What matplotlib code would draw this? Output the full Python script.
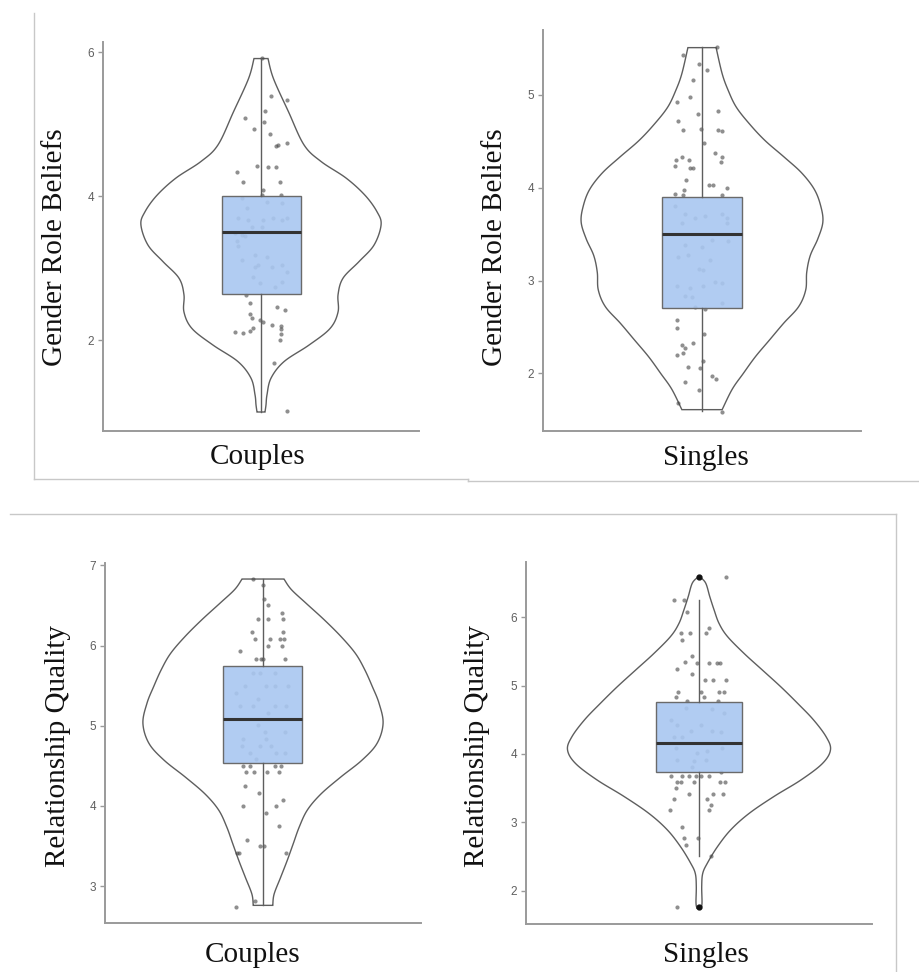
import numpy as np
import matplotlib
matplotlib.use("Agg")
import matplotlib.pyplot as plt
from matplotlib.lines import Line2D

# ---------------- data ----------------
# Panel A: Gender Role Beliefs - Couples
grb_c_prof_y = [1.00, 1.10, 1.24, 1.47, 1.70, 1.93, 2.16, 2.39, 2.63, 2.86, 3.09, 3.32,
                3.60, 3.78, 4.01, 4.25, 4.48, 4.71, 5.17, 5.63, 5.91]
grb_c_prof_d = [4, 5, 6, 10, 23, 48, 69, 77, 77, 82, 98, 113,
                120, 116, 104, 85, 60, 43, 27.5, 12.5, 7]
grb_c_box = dict(whislo=1.0, q1=2.64, med=3.5, q3=4.0, whishi=5.92, fliers=[])
grb_c_jit = [1, 10, 26, 4, -16, 3, -7, 9, 15, 17, 26, -4, 7, 15, -24, -18, 19, 2, 1, 20,
             -19, 6, 21, -14, -23, -13, 2, 12, 21, 26, -9, 1, -26, -19, -16, -24, -23, -6, 6, -19,
             -3, 11, -6, 21, 26, -8, -1, 14, 21, -15, -11, 16, 24, -11, -9, -1, 2, 11, 20, 20,
             20, 19, -8, -11, -18, -26, 13, 26]
grb_c_val = [5.92, 5.39, 5.33, 5.18, 5.09, 5.03, 4.93, 4.86, 4.69, 4.71, 4.73, 4.42, 4.41, 4.41,
             4.34, 4.19, 4.19, 4.08, 4.01, 4.01, 3.97, 3.92, 3.90, 3.83, 3.69, 3.67, 3.67, 3.69,
             3.67, 3.69, 3.57, 3.57, 3.48, 3.46, 3.45, 3.37, 3.30, 3.18, 3.16, 3.11, 3.04, 3.02,
             3.01, 3.04, 2.94, 2.88, 2.79, 2.73, 2.80, 2.63, 2.52, 2.46, 2.41, 2.36, 2.30, 2.28,
             2.25, 2.21, 2.20, 2.15, 2.08, 2.00, 2.16, 2.12, 2.10, 2.11, 1.68, 1.02]

# Panel B: Gender Role Beliefs - Singles
grb_s_prof_y = [1.61, 1.83, 2.00, 2.18, 2.36, 2.54, 2.72, 2.90, 3.09, 3.27, 3.45, 3.63,
                3.80, 3.98, 4.16, 4.33, 4.51, 4.69, 4.87, 5.05, 5.23, 5.51]
grb_s_prof_d = [20, 30, 41, 53, 67, 81, 96, 103, 104, 107.5, 115, 120,
                118, 111.7, 99, 81.7, 62.5, 47, 34, 26, 20, 14]
grb_s_box = dict(whislo=1.6, q1=2.7, med=3.5, q3=3.9, whishi=5.52, fliers=[])
grb_s_jit = [15, -19, -3, 5, -9, -12, -25, 16, -4, -24, -19, -1, 16, 20, 2, 13, 20, 19, -26, -20,
             -13, -27, -12, -9, -16, 7, 11, 25, -18, -27, -19, 20, -27, -17, -7, 3, 20, 25, -20, 25,
             10, 26, -17, 0, -14, -24, 8, -3, 1, -25, -12, 1, 13, 20, -17, -10, 20, -7, 3, -25,
             -25, 2, -9, -20, -17, -25, -19, 1, -2, -14, 10, 14, -17, -3, -24, 20]
grb_s_val = [5.52, 5.43, 5.33, 5.27, 5.16, 4.98, 4.92, 4.83, 4.80, 4.72, 4.62, 4.63, 4.62, 4.61,
             4.48, 4.37, 4.33, 4.28, 4.30, 4.33, 4.30, 4.23, 4.21, 4.21, 4.08, 4.03, 4.03, 4.00,
             3.98, 3.93, 3.92, 3.92, 3.80, 3.72, 3.67, 3.70, 3.72, 3.68, 3.62, 3.62, 3.44, 3.43,
             3.38, 3.36, 3.28, 3.25, 3.22, 3.13, 3.11, 2.94, 2.92, 2.94, 2.99, 2.97, 2.83, 2.82,
             2.76, 2.72, 2.69, 2.58, 2.49, 2.43, 2.33, 2.31, 2.27, 2.20, 2.22, 2.13, 2.06, 2.07,
             1.97, 1.94, 1.91, 1.82, 1.68, 1.59]

# Panel C: Relationship Quality - Couples
rq_c_prof_y = [2.76, 2.90, 3.11, 3.32, 3.53, 3.74, 3.95, 4.15, 4.36, 4.57, 4.78, 5.03,
               5.28, 5.49, 5.70, 5.90, 6.11, 6.32, 6.53, 6.70, 6.83]
rq_c_prof_d = [9.7, 11, 17.5, 24, 30, 36, 44, 57.5, 77, 98, 113, 119,
               115, 108.3, 100.8, 91.7, 77.5, 60.8, 42.5, 28, 20.8]
rq_c_box = dict(whislo=2.76, q1=4.54, med=5.09, q3=5.75, whishi=6.83, fliers=[])
rq_c_jit = [-10, 0, 1, 5, 19, -5, 5, 20, -11, 20, -8, 7, 17, 21, 5, 19, -23, -7, 0, 22,
            -2, -10, -3, 12, -18, 3, 12, 25, -27, -5, -23, -10, 12, 23, 5, -5, 2, 22, -20, 3,
            -21, -3, 8, -13, 13, 22, -7, -20, -13, 12, 18, -17, -9, 4, 16, -18, -4, 20, -20, 13,
            3, 16, -16, -3, 1, -26, -24, 23, -8, -27]
rq_c_val = [6.83, 6.75, 6.58, 6.51, 6.41, 6.33, 6.33, 6.33, 6.17, 6.17, 6.08, 6.08, 6.08, 6.08,
            6.00, 6.00, 5.93, 5.83, 5.83, 5.83, 5.83, 5.66, 5.66, 5.66, 5.50, 5.50, 5.50, 5.50,
            5.41, 5.34, 5.25, 5.25, 5.25, 5.25, 5.16, 5.01, 4.92, 4.92, 4.83, 4.83, 4.75, 4.75,
            4.75, 4.66, 4.66, 4.66, 4.59, 4.50, 4.50, 4.50, 4.50, 4.42, 4.42, 4.42, 4.42, 4.25,
            4.16, 4.08, 4.00, 4.00, 3.91, 3.75, 3.58, 3.50, 3.50, 3.41, 3.41, 3.41, 2.82, 2.74]

# Panel D: Relationship Quality - Singles
rq_s_prof_y = [1.74, 1.82, 2.06, 2.25, 2.40, 2.64, 2.89, 3.13, 3.38, 3.62, 3.86, 4.06,
               4.25, 4.50, 4.74, 4.98, 5.23, 5.47, 5.72, 5.91, 6.11, 6.30, 6.50, 6.59]
rq_s_prof_d = [2, 3, 2.7, 3.7, 8.3, 18.3, 31.7, 50, 75, 101.7, 123, 131,
               126.7, 114, 98.3, 81.7, 63, 45, 28.3, 20, 15, 10.8, 6.7, 1]
rq_s_box = dict(whislo=2.5, q1=3.74, med=4.165, q3=4.76, whishi=6.25, fliers=[6.59, 1.76])
rq_s_jit = [27, -25, -15, -12, 10, 7, -18, -9, -17, -7, -14, -22, -2, 10, 18, 21, -7, 6, 14, 27,
            -21, 2, 20, 25, -23, 5, -12, 19, -13, 13, 25, -28, 2, -22, -8, 13, 22, -25, -17, -23,
            -2, 8, 23, -22, -5, 7, -7, -28, -17, -10, -3, 2, 10, 22, -22, -18, -5, 21, 26, -23,
            -10, 14, 24, -25, 8, 12, -29, 10, -17, -15, -13, -1, 12, -22]
rq_s_val = [6.59, 6.25, 6.25, 6.08, 5.84, 5.77, 5.77, 5.77, 5.67, 5.43, 5.34, 5.25, 5.33, 5.33,
            5.33, 5.33, 5.17, 5.08, 5.08, 5.08, 4.91, 4.91, 4.91, 4.91, 4.84, 4.84, 4.77, 4.77,
            4.67, 4.66, 4.60, 4.50, 4.42, 4.42, 4.33, 4.33, 4.32, 4.25, 4.25, 4.08, 4.02, 4.05,
            4.08, 3.91, 3.90, 3.91, 3.81, 3.68, 3.68, 3.68, 3.68, 3.68, 3.68, 3.74, 3.59, 3.59,
            3.59, 3.59, 3.59, 3.50, 3.41, 3.41, 3.41, 3.34, 3.34, 3.25, 3.18, 3.18, 2.93, 2.77,
            2.67, 2.77, 2.51, 1.76]

panels = [
    dict(prof_y=grb_c_prof_y, prof_d=grb_c_prof_d, box=grb_c_box, jit=grb_c_jit, val=grb_c_val,
         ylabel="Gender Role Beliefs", xlabel="Couples", yticks=[2, 4, 6], ylim=(0.736, 6.14),
         rect_px=(103, 42, 419, 431), ylab=(-0.152, 0.472), xlab=(0.489, -0.067)),
    dict(prof_y=grb_s_prof_y, prof_d=grb_s_prof_d, box=grb_s_box, jit=grb_s_jit, val=grb_s_val,
         ylabel="Gender Role Beliefs", xlabel="Singles", yticks=[2, 3, 4, 5], ylim=(1.38, 5.70),
         rect_px=(543, 30, 861, 431), ylab=(-0.151, 0.458), xlab=(0.512, -0.067)),
    dict(prof_y=rq_c_prof_y, prof_d=rq_c_prof_d, box=rq_c_box, jit=rq_c_jit, val=rq_c_val,
         ylabel="Relationship Quality", xlabel="Couples", yticks=[3, 4, 5, 6, 7], ylim=(2.54, 7.03),
         rect_px=(105, 563, 421, 923), ylab=(-0.149, 0.493), xlab=(0.466, -0.088)),
    dict(prof_y=rq_s_prof_y, prof_d=rq_s_prof_d, box=rq_s_box, jit=rq_s_jit, val=rq_s_val,
         ylabel="Relationship Quality", xlabel="Singles", yticks=[2, 3, 4, 5, 6], ylim=(1.51, 6.81),
         rect_px=(526, 562, 872, 924), ylab=(-0.141, 0.493), xlab=(0.52, -0.085)),
]

# ---------------- style ----------------
W, H = 920, 972
VIOLIN_HALF = 0.76
BOX_WIDTH = 0.5
BOX_COLOR = "#a9c7f1"
LINE_GREY = "#5e5e5e"
SPINE_GREY = "#9a9a9a"
LABEL_FONT = dict(family=["Liberation Serif", "DejaVu Serif"], size=21, color="#111111")


def smooth_outline(y, d, n=12):
    """Catmull-Rom rendering of the read outline, for a smooth drawn edge."""
    y = np.asarray(y, float)
    d = np.asarray(d, float)
    P = np.column_stack([y, d])
    P = np.vstack([P[0], P, P[-1]])
    out = []
    t = np.linspace(0, 1, n, endpoint=False)
    for i in range(1, len(P) - 2):
        p0, p1, p2, p3 = P[i - 1], P[i], P[i + 1], P[i + 2]
        tt = t[:, None]
        seg = 0.5 * ((2 * p1) + (-p0 + p2) * tt + (2 * p0 - 5 * p1 + 4 * p2 - p3) * tt ** 2
                     + (-p0 + 3 * p1 - 3 * p2 + p3) * tt ** 3)
        out.append(seg)
    out.append(P[-2][None, :])
    out = np.vstack(out)
    return out[:, 0], np.clip(out[:, 1], 0, None)


fig = plt.figure(figsize=(W / 100, H / 100), dpi=100)
fig.patch.set_facecolor("white")

for p in panels:
    l, t, r, b = p["rect_px"]
    ax = fig.add_axes([l / W, 1 - b / H, (r - l) / W, (b - t) / H])
    half_px = (r - l) / 2.0

    # violin
    dmax = max(p["prof_d"])
    sy, sd = smooth_outline(p["prof_y"], p["prof_d"])
    sd = sd / dmax * VIOLIN_HALF
    xs = np.concatenate([-sd, sd[::-1]])
    ys = np.concatenate([sy, sy[::-1]])
    ax.fill(xs, ys, facecolor="white", edgecolor=LINE_GREY, linewidth=1.0, zorder=1)

    # jittered points
    jx = np.array(p["jit"], dtype=float) / half_px
    ax.scatter(jx, p["val"], s=9, color="#444444", alpha=0.6, linewidths=0, zorder=2)

    # boxplot
    st = dict(p["box"])
    bp = ax.bxp([st], positions=[0], widths=BOX_WIDTH, showcaps=False, patch_artist=True,
                boxprops=dict(facecolor=BOX_COLOR, edgecolor="#6a6a6a", linewidth=1.0),
                whiskerprops=dict(color=LINE_GREY, linewidth=1.0),
                medianprops=dict(color="#333333", linewidth=2.2),
                flierprops=dict(marker="o", markerfacecolor="#111111", markeredgecolor="#111111",
                                markersize=3.5),
                manage_ticks=False, zorder=3)
    for box in bp["boxes"]:
        box.set_edgecolor("#6a6a6a")
        box.set_facecolor(matplotlib.colors.to_rgba(BOX_COLOR, 0.9))

    ax.set_xlim(-1, 1)
    ax.set_ylim(*p["ylim"])
    ax.set_yticks(p["yticks"])
    ax.set_yticklabels([str(v) for v in p["yticks"]])
    ax.set_xticks([])
    for s in ["top", "right"]:
        ax.spines[s].set_visible(False)
    for s in ["left", "bottom"]:
        ax.spines[s].set_color(SPINE_GREY)
        ax.spines[s].set_linewidth(1.4)
    ax.tick_params(axis="y", length=3.5, width=1.0, color=SPINE_GREY, labelsize=8.5,
                   labelcolor="#5f5f5f", pad=3)
    for lab in ax.get_yticklabels():
        lab.set_family(["Liberation Sans", "DejaVu Sans"])
    ax.set_ylabel(p["ylabel"], va="center", **LABEL_FONT)
    ax.yaxis.set_label_coords(*p["ylab"])
    ax.set_xlabel(p["xlabel"], va="center", **LABEL_FONT)
    ax.xaxis.set_label_coords(*p["xlab"])
    ax.set_facecolor("none")

# screenshot frame lines
FRAME = "#c8c8c8"


def fline(x0, y0, x1, y1):
    fig.add_artist(Line2D([x0 / W, x1 / W], [1 - y0 / H, 1 - y1 / H], color=FRAME, linewidth=1.0))


fline(34, 13, 34, 479)
fline(34, 479, 468, 479)
fline(468, 479, 468, 481)
fline(468, 481, 920, 481)
fline(10, 513.5, 896, 513.5)
fline(896, 513.5, 896, 972)

fig.savefig("out.png", dpi=100, facecolor="white")
